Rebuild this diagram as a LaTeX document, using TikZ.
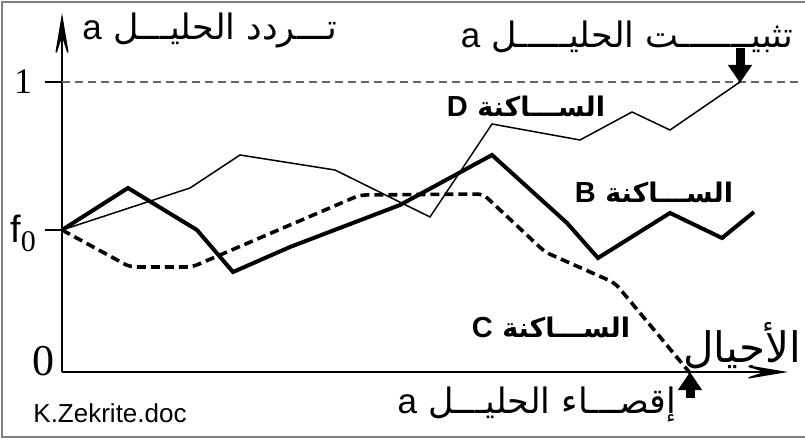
\documentclass[tikz,border=0pt]{standalone}
\usepackage{fontspec}
\usetikzlibrary{arrows.meta}
\TeXXeTstate=1
\newfontfamily\arabicfont[Script=Arabic]{DejaVu Sans}
\newfontfamily\latinsans{Liberation Sans}
\newfontfamily\timesf{Liberation Serif}
\newcommand{\latA}{{\latinsans\fontsize{35}{36}\selectfont a}}
\newcommand{\latB}[1]{{\latinsans\bfseries\fontsize{29}{30}\selectfont #1}}
\begin{document}
\begin{tikzpicture}[x=1pt,y={(0pt,-1pt)},
  arlabel/.style={inner sep=0pt,font=\arabicfont\fontsize{35}{40}\selectfont},
  arbold/.style={inner sep=0pt,font=\arabicfont\bfseries\fontsize{27}{32}\selectfont},
  numlabel/.style={inner sep=0pt,font=\timesf\fontsize{36}{38}\selectfont},
  axis/.style={line width=1.4pt,-{Stealth[length=48pt,width=16pt,inset=24pt]}},
  tick/.style={line width=1.4pt},
  guide/.style={line width=1.1pt,draw=black!60,dash pattern=on 8pt off 5pt},
  thinD/.style={line width=1.5pt,line join=miter},
  thickB/.style={line width=4pt,line join=miter},
  dashC/.style={line width=3.6pt,dash pattern=on 9pt off 5pt,rounded corners=6pt},
  bigarrow/.style={line width=9pt,-{Triangle[length=18pt,width=23pt]}},
  frame/.style={draw=black!50,line width=1.5pt}]
\useasboundingbox (0,0) rectangle (805,441);
\draw[frame] (808,2) -- (2,2) -- (2,437) -- (808,437);
% axes
\coordinate (origin) at (62,372);
\coordinate (xend) at (788,372);
\coordinate (yend) at (62,13);
\coordinate (onetick) at (45,82);
\coordinate (oneaxis) at (62,82);
\coordinate (oneend) at (800,82);
\coordinate (ftick) at (45,230);
\coordinate (faxis) at (62,230);
\draw[axis] (origin) -- (yend);
\draw[axis] (origin) -- (xend);
\draw[tick] (onetick) -- (oneaxis);
\draw[tick] (ftick) -- (faxis);
\draw[guide] (oneaxis) -- (oneend);
% labels on axes
\node[numlabel] (one) at (23,82) {1};
\node[numlabel,font=\timesf\fontsize{44}{46}\selectfont] (zero) at (43,361) {0};
\node[inner sep=0pt,font=\latinsans\fontsize{38}{40}\selectfont] (fzero) at (23,233) {f\raisebox{-0.24em}{\timesf\fontsize{30}{30}\selectfont 0}};
% curve D (thin)
\draw[thinD] (62,230) -- (190,188) -- (240,155) -- (335,170) -- (430,217) -- (492,124) -- (580,140) -- (632,112) -- (670,130) -- (740,82);
% curve B (thick)
\draw[thickB] (62,230) -- (128,188) -- (197,230) -- (233,272) -- (290,247) -- (400,205) -- (492,155) -- (567,223) -- (598,258) -- (670,213) -- (722,238) -- (754,212);
% curve C (dashed)
\draw[dashC] (62,230) -- (130,267) -- (192,267) -- (360,195) -- (483,194) -- (545,252) -- (615,283) -- (690,373);
% arrows
\coordinate (fixtop) at (740,48);
\coordinate (fixpt) at (740,83);
\draw[bigarrow] (fixtop) -- (fixpt);
\coordinate (losebot) at (690,398);
\coordinate (losept) at (690,372);
\draw[bigarrow] (losebot) -- (losept);
% texts
\node[arlabel] (freq) at (210,30) {\beginR تـــردد الحليـــل \latA\endR};
\node[arlabel] (fix) at (627,37) {\beginR تثبيـــــــت الحليـــــل \latA\endR};
\node[arbold] (labD) at (526,106) {\beginR الســـاكنة \latB{D}\endR};
\node[arbold] (labB) at (654,192) {\beginR الســـاكنة \latB{B}\endR};
\node[arbold] (labC) at (551,327) {\beginR الســـاكنة \latB{C}\endR};
\node[arlabel,font=\arabicfont\fontsize{42}{44}\selectfont] (gen) at (742,346) {\beginR الأجيال\endR};
\node[arlabel] (lose) at (537,404) {\beginR إقصـــاء الحليـــل \latA\endR};
\node[inner sep=0pt,font=\latinsans\fontsize{26}{28}\selectfont] (credit) at (110,413) {K.Zekrite.doc};
\end{tikzpicture}
\end{document}
